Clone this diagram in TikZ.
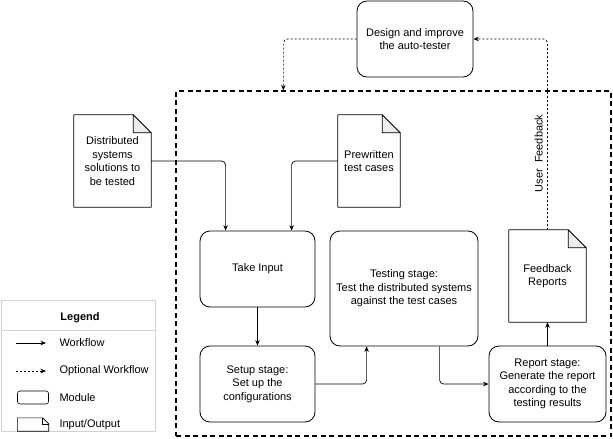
\documentclass[tikz,border=0pt]{standalone}
\usepackage{fontspec}
\setmainfont{Liberation Sans}
\usetikzlibrary{calc,arrows.meta}
\newcommand\docoutline[2]{%
  \draw[docline] (#1.north west) -- ($(#1.north east)+(-#2,0)$) -- ($(#1.north east)+(0,#2)$) -- (#1.south east) -- (#1.south west) -- cycle;
  \draw[docline, fill=gray!15] ($(#1.north east)+(-#2,0)$) -- ($(#1.north east)+(-#2,#2)$) -- ($(#1.north east)+(0,#2)$) -- cycle;}
\begin{document}
\begin{tikzpicture}[x=1pt,y=-1pt, font=\fontsize{11}{13.5}\selectfont,
  module/.style={draw, rounded corners=10pt, line width=0.8pt, align=center, inner sep=0pt},
  docnode/.style={align=center, inner sep=0pt},
  docline/.style={line width=0.7pt, line join=round},
  flow/.style={draw, line width=0.7pt, rounded corners=4pt, -{Stealth[length=5.5pt,width=4.5pt]}},
  optflow/.style={flow, dash pattern=on 2pt off 2pt},
  legendrule/.style={draw=gray!35, line width=0.7pt},
]
\useasboundingbox (0,0) rectangle (613,439);

% frame
\node[draw, line width=1.3pt, dash pattern=on 5pt off 3.5pt, minimum width=435pt, minimum height=345pt, inner sep=0pt] (frame) at (393.5,263.5) {};

% modules
\node[module, minimum width=116pt, minimum height=76pt] (design) at (415,39) {Design and improve\\the auto-tester};
\node[module, minimum width=115pt, minimum height=76pt] (take) at (257.5,269) {Take Input};
\node[module, minimum width=115pt, minimum height=76pt] (setup) at (257.5,384) {Setup stage:\\Set up the\\configurations};
\node[module, minimum width=148pt, minimum height=115pt] (test) at (404,288.5) {Testing stage:\\Test the distributed systems\\against the test cases};
\node[module, minimum width=117pt, minimum height=76pt] (report) at (547.5,384) {Report stage:\\Generate the report\\according to the\\testing results};

% documents
\node[docnode, minimum width=77pt, minimum height=92pt] (dist) at (112.5,161) {Distributed\\systems\\solutions to\\be tested};
\docoutline{dist}{18}
\node[docnode, minimum width=62pt, minimum height=92pt] (prew) at (369,161) {Prewritten\\test cases};
\docoutline{prew}{18}
\node[docnode, minimum width=77pt, minimum height=92pt] (fb) at (547.5,276) {Feedback\\Reports};
\docoutline{fb}{18}

% connectors
\draw[flow] (dist.east) -| ($(take.north west)+(26,0)$);
\draw[flow] (prew.west) -| ($(take.north west)+(92,0)$);
\draw[flow] (take.south) -- (setup.north);
\draw[flow] (setup.east) -| ($(test.south west)+(37,0)$);
\draw[flow] ($(test.south west)+(110,0)$) |- (report.west);
\draw[flow] (report.north) -- (fb.south);
\draw[optflow] (design.west) -| ($(frame.north west)+(108,0)$);
\draw[optflow] (fb.north) |- node[pos=0.2, left=1pt, rotate=90, anchor=south] {User\ \ Feedback} (design.east);

% legend
\node[legendrule, draw, minimum width=154pt, minimum height=131pt, inner sep=0pt] (legend) at (78,365.5) {};
\draw[legendrule] ($(legend.north west)+(0,31)$) -- ($(legend.north east)+(0,31)$);
\node[font=\fontsize{11}{13.5}\selectfont\bfseries] (legtitle) at (80,318) {Legend};
\coordinate (wfa) at (16,343); \coordinate (wfb) at (46,343);
\draw[flow] (wfa) -- (wfb);
\node[anchor=west] (wft) at (56,343) {Workflow};
\coordinate (owa) at (16,371); \coordinate (owb) at (46,371);
\draw[optflow] (owa) -- (owb);
\node[anchor=west] (owt) at (56,371) {Optional Workflow};
\node[draw, rounded corners=2.5pt, line width=0.6pt, minimum width=31pt, minimum height=13pt, inner sep=0pt] (legmod) at (33,397.5) {};
\node[anchor=west] (modt) at (56,398) {Module};
\node[docnode, minimum width=31pt, minimum height=13pt] (legdoc) at (33,424.5) {};
\draw[line width=0.6pt] (legdoc.north west) -- ($(legdoc.north east)+(-6,0)$) -- ($(legdoc.north east)+(0,6)$) -- (legdoc.south east) -- (legdoc.south west) -- cycle;
\draw[line width=0.6pt] ($(legdoc.north east)+(-6,0)$) -- ($(legdoc.north east)+(-6,6)$) -- ($(legdoc.north east)+(0,6)$);
\node[anchor=west] (iot) at (56,425) {Input/Output};
\end{tikzpicture}
\end{document}
